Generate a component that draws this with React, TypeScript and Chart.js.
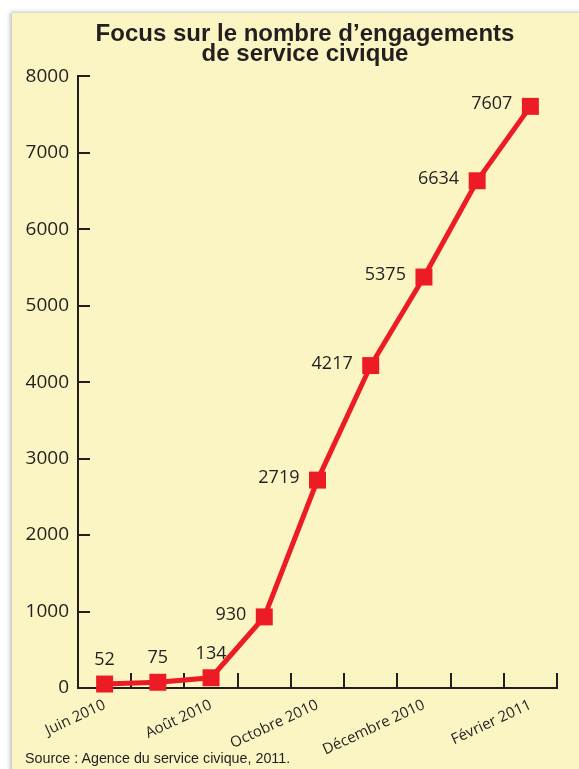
import React, { useEffect, useRef } from 'react';
import { Chart, registerables } from 'chart.js';

Chart.register(...registerables);

const categories = [
  'Juin 2010',
  'Juillet 2010',
  'Août 2010',
  'Septembre 2010',
  'Octobre 2010',
  'Novembre 2010',
  'Décembre 2010',
  'Janvier 2011',
  'Février 2011',
];
const engagements = [52, 75, 134, 930, 2719, 4217, 5375, 6634, 7607];
const labelPlacement = ['top', 'top', 'top', 'left', 'left', 'left', 'left', 'left', 'left'];
const titleLines = ['Focus sur le nombre d’engagements', 'de service civique'];
const sourceText = 'Source : Agence du service civique, 2011.';
const yMin = 0;
const yMax = 8000;
const yStep = 1000;

const DARK = '#231f20';
const RED = '#ed1c24';
const BG = '#faf5c2';
const SANS = '"Open Sans", "Noto Sans", sans-serif';
const ARIAL = '"Liberation Sans", Arial, Helvetica, sans-serif';

// Draws inward tick marks and the y tick labels (outside the scale box clip)
const axisDecor = {
  id: 'axisDecor',
  beforeDatasetsDraw(chart: any) {
    const { ctx, chartArea, scales } = chart;
    const x = scales.x;
    const y = scales.y;
    ctx.save();
    ctx.strokeStyle = DARK;
    ctx.lineWidth = 2;
    y.ticks.forEach((t: any, i: number) => {
      if (t.value === yMin) return;
      const py = Math.round(y.getPixelForTick(i));
      ctx.beginPath();
      ctx.moveTo(chartArea.left, py);
      ctx.lineTo(chartArea.left + 12, py);
      ctx.stroke();
    });
    for (let i = 0; i < categories.length; i++) {
      const px = Math.round(x.getPixelForValue(i + 0.5));
      ctx.beginPath();
      ctx.moveTo(px, chartArea.bottom);
      ctx.lineTo(px, chartArea.bottom - 15);
      ctx.stroke();
    }
    ctx.fillStyle = DARK;
    ctx.font = `19px ${SANS}`;
    ctx.textAlign = 'right';
    ctx.textBaseline = 'middle';
    y.ticks.forEach((t: any, i: number) => {
      ctx.fillText(String(t.value), chartArea.left - 9, y.getPixelForTick(i));
    });
    ctx.restore();
  },
};

const valueLabels = {
  id: 'valueLabels',
  afterDatasetsDraw(chart: any) {
    const { ctx } = chart;
    const meta = chart.getDatasetMeta(0);
    ctx.save();
    ctx.fillStyle = DARK;
    ctx.font = `18px ${SANS}`;
    ctx.textBaseline = 'middle';
    meta.data.forEach((pt: any, i: number) => {
      const txt = String(engagements[i]);
      if (labelPlacement[i] === 'top') {
        ctx.textAlign = 'center';
        ctx.fillText(txt, pt.x, pt.y - 24);
      } else {
        ctx.textAlign = 'right';
        ctx.fillText(txt, pt.x - 18, pt.y - 2);
      }
    });
    ctx.restore();
  },
};

export default function App() {
  const canvasRef = useRef<HTMLCanvasElement | null>(null);

  useEffect(() => {
    if (!canvasRef.current) return;
    const chart = new Chart(canvasRef.current, {
      type: 'line',
      data: {
        labels: categories,
        datasets: [
          {
            data: engagements,
            borderColor: RED,
            backgroundColor: RED,
            borderWidth: 5,
            tension: 0,
            pointStyle: 'rect',
            pointRadius: 12,
            pointHoverRadius: 12,
            pointBackgroundColor: RED,
            pointBorderWidth: 0,
            clip: false as any,
          },
        ],
      },
      options: {
        animation: false,
        responsive: false,
        maintainAspectRatio: false,
        layout: { padding: { left: 53, right: 22, top: 0, bottom: 0 } },
        plugins: {
          legend: { display: false },
          tooltip: { enabled: false },
          title: {
            display: true,
            text: titleLines,
            color: DARK,
            font: { family: ARIAL, size: 24, weight: 'bold', lineHeight: 0.84 },
            padding: { top: 24, bottom: 12 },
          },
        },
        scales: {
          x: {
            type: 'category',
            offset: true,
            grid: { display: false, offset: true, drawTicks: false, tickLength: 0 },
            border: { display: true, color: DARK, width: 2 },
            ticks: {
              autoSkip: false,
              minRotation: 25,
              maxRotation: 25,
              padding: 8,
              color: DARK,
              font: { family: SANS, size: 15 },
              callback: (_v: any, i: number) => (i % 2 === 0 ? categories[i] : ''),
            },
            afterFit: (s: any) => {
              s.height = 81;
            },
          },
          y: {
            min: yMin,
            max: yMax,
            grid: { display: false, drawTicks: false, tickLength: 0 },
            border: { display: true, color: DARK, width: 2 },
            ticks: {
              display: false,
              stepSize: yStep,
            },
            afterFit: (s: any) => {
              s.width = 25;
            },
          },
        },
      },
      plugins: [axisDecor, valueLabels],
    });
    return () => chart.destroy();
  }, []);

  return (
    <div
      style={{
        position: 'fixed',
        left: 0,
        top: 0,
        width: 579,
        height: 769,
        overflow: 'hidden',
        background: '#ffffff',
      }}
    >
      <div
        style={{
          position: 'absolute',
          left: 12,
          top: 13,
          width: 620,
          height: 800,
          background: BG,
          boxShadow: '-2px -1px 4px rgba(0,0,0,0.25)',
        }}
      />
      <canvas
        ref={canvasRef}
        width={579}
        height={769}
        style={{ position: 'absolute', left: 0, top: 0, width: 579, height: 769 }}
      />
      <div
        style={{
          position: 'absolute',
          left: 25,
          top: 751,
          fontFamily: ARIAL,
          fontSize: 14.3,
          lineHeight: '15px',
          color: DARK,
          whiteSpace: 'nowrap',
        }}
      >
        {sourceText}
      </div>
    </div>
  );
}
